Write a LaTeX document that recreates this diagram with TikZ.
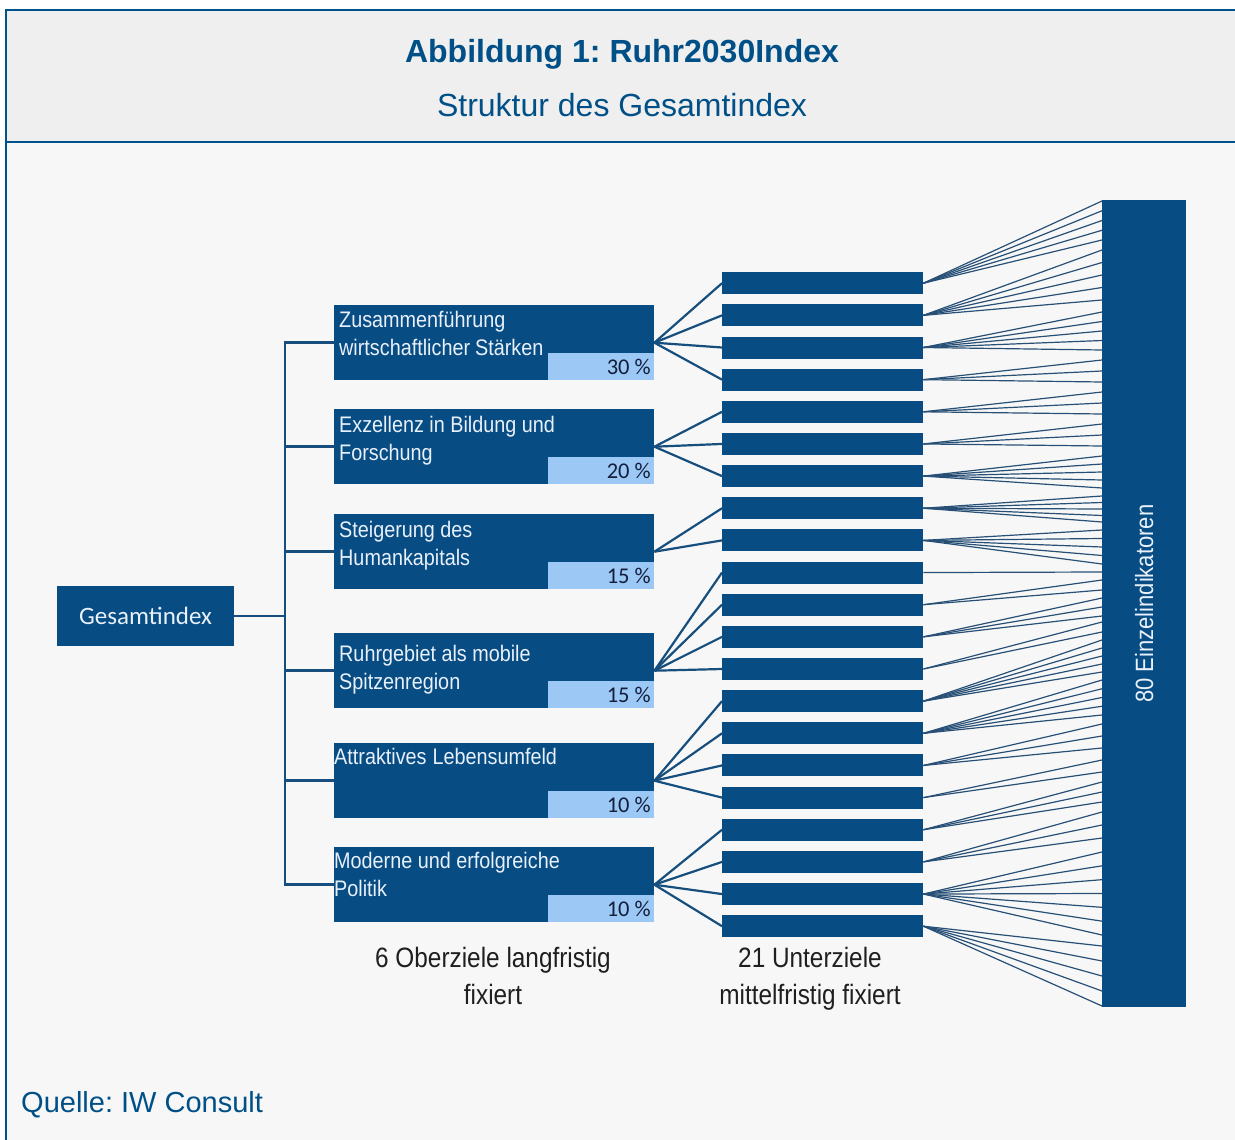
\documentclass[tikz,border=0pt]{standalone}
\usepackage{fontspec}
\setmainfont{Liberation Sans}
\newfontfamily\narrowfont[FakeStretch=0.88]{Liberation Sans}
\newfontfamily\labelfont[FakeStretch=0.87]{Liberation Sans}
\newfontfamily\calfont{Carlito}
\definecolor{framecol}{RGB}{0,82,138}
\definecolor{titlecol}{RGB}{0,80,135}
\definecolor{boxblue}{RGB}{8,76,132}
\definecolor{lightblue}{RGB}{155,200,245}
\definecolor{boxtext}{RGB}{232,240,250}
\definecolor{pcttext}{RGB}{20,30,60}
\definecolor{linecol}{RGB}{22,78,125}
\definecolor{thincol}{RGB}{40,80,118}
\definecolor{headbg}{RGB}{239,239,239}
\definecolor{bodybg}{RGB}{247,247,247}
\frenchspacing
\newcommand\twolines[2]{\vtop{\hbox{#1}\hbox{#2}}}
\newcommand\twocentered[2]{\vtop{\halign{\hfil##\hfil\cr#1\cr#2\cr}}}
\tikzset{
  obox/.style={fill=boxblue, draw=none, minimum width=320pt, minimum height=75pt, inner sep=0pt, anchor=north west},
  pbox/.style={fill=lightblue, draw=none, minimum width=106pt, minimum height=27pt, inner sep=0pt, anchor=south east},
  ubar/.style={fill=boxblue, draw=none, minimum width=201pt, minimum height=22pt, inner sep=0pt, anchor=north west},
  otext/.style={text=boxtext, font=\narrowfont\fontsize{22.5}{28.5}\selectfont, inner sep=0pt, anchor=base west},
  ptext/.style={text=pcttext, font=\calfont\fontsize{22.5}{26}\selectfont, inner sep=0pt, anchor=base east},
  blabel/.style={text=black!88, font=\labelfont\fontsize{28}{37}\selectfont, inner sep=0pt, anchor=north},
  tree/.style={draw=linecol, line width=2.6pt},
  ofan/.style={draw=linecol, line width=2.2pt},
  ifan/.style={draw=thincol, line width=1.2pt},
  frame/.style={draw=framecol, line width=2.6pt},
}
\begin{document}
\begin{tikzpicture}[x=1pt,y=-1pt]
\useasboundingbox (0,0) rectangle (1235,1140);
\fill[white] (0,0) rectangle (1235,1140);
\fill[headbg] (6,10) rectangle (1235,142);
\fill[bodybg] (6,142) rectangle (1235,1140);
\draw[frame] (6,1141) -- (6,10) -- (1236,10);
\draw[frame] (6,142) -- (1236,142);

% header texts
\node[font=\bfseries\fontsize{32}{38}\selectfont, text=titlecol, inner sep=0pt, anchor=base] (title) at (622,63) {Abbildung 1: Ruhr2030Index};
\node[font=\fontsize{32}{38}\selectfont, text=titlecol, inner sep=0pt, anchor=base] (subtitle) at (622,116) {Struktur des Gesamtindex};

% Gesamtindex
\node[fill=boxblue, minimum width=177pt, minimum height=60pt, inner sep=0pt, text=boxtext, font=\calfont\fontsize{25}{30}\selectfont] (g) at (145.5,616) {Gesamtindex};

% Oberziele boxes
\node[obox] (o1) at (334,305) {};
\node[obox] (o2) at (334,409) {};
\node[obox] (o3) at (334,514) {};
\node[obox] (o4) at (334,633) {};
\node[obox] (o5) at (334,743) {};
\node[obox] (o6) at (334,847) {};
\foreach \o in {1,...,6}{
  \node[pbox] (p\o) at (o\o.south east) {};
}

% texts in boxes
\node[otext] (t1) at (339,327) {\twolines{Zusammenführung}{wirtschaftlicher\hspace{5pt}Stärken}};
\node[otext] (t2) at (339,432) {\twolines{Exzellenz in Bildung und}{Forschung}};
\node[otext] (t3) at (339,537) {\twolines{Steigerung des}{Humankapitals}};
\node[otext] (t4) at (339,661) {\twolines{Ruhrgebiet als mobile}{Spitzenregion}};
\node[otext] (t5) at (334,764) {Attraktives\hspace{6pt}Lebensumfeld};
\node[otext] (t6) at (334,868) {\twolines{Moderne und erfolgreiche}{Politik}};

% percentages
\node[ptext] (pc1) at (651,374) {30 \%};
\node[ptext] (pc2) at (651,478) {20 \%};
\node[ptext] (pc3) at (651,583) {15 \%};
\node[ptext] (pc4) at (651,702) {15 \%};
\node[ptext] (pc5) at (651,812) {10 \%};
\node[ptext] (pc6) at (651,916) {10 \%};

% tree
\coordinate (tj) at (285,616);
\draw[tree] (g.east) -- (tj);
\foreach \o in {1,...,6}{
  \draw[tree] (o\o.west) -| (tj);
}

% Unterziele bars
\foreach \i in {1,...,21}{
  \pgfmathsetmacro\yt{272+32.15*(\i-1)}
  \node[ubar] (u\i) at (722,\yt) {};
}

% fans from Oberziele to Unterziele
\foreach \o/\lst in {1/{1,2,3,4}, 2/{5,6,7}, 3/{8,9}, 4/{10,11,12,13}, 5/{14,15,16,17}, 6/{18,19,20,21}}{
  \foreach \u in \lst {
    \draw[ofan] (o\o.east) -- (u\u.west);
  }
}

% Einzelindikatoren bar
\node[fill=boxblue, draw=none, minimum width=84pt, minimum height=807pt, inner sep=0pt, anchor=north west] (e) at (1102,200) {};
\node[rotate=90, text=boxtext, font=\narrowfont\fontsize{25}{30}\selectfont, inner sep=0pt] (elabel) at (e.center) {80 Einzelindikatoren};

% fans from Unterziele to Einzelindikatoren (80 lines)
\foreach \i/\n/\a/\b in {1/5/201/240, 2/5/250/300, 3/5/312/350, 4/3/360/382, 5/3/392/414, 6/3/424/446, 7/5/456/488, 8/5/496/522, 9/5/530/564, 10/1/572/572, 11/2/580/590, 12/3/598/616, 13/2/622/632, 14/5/640/672, 15/5/680/715, 16/3/724/748, 17/2/760/772, 18/3/782/802, 19/3/812/838, 20/7/852/935, 21/5/946/1006}{
  \pgfmathtruncatemacro\lastk{\n-1}
  \foreach \k in {0,...,\lastk}{
    \pgfmathsetmacro\yy{\a+(\b-\a)*\k/max(\n-1,1)}
    \coordinate (ep) at (e.west |- 0,\yy);
    \draw[ifan] (u\i.east) -- (ep);
  }
}

% bottom labels
\node[blabel] (lab1) at (493,947.5) {\twocentered{6 Oberziele langfristig}{fixiert}};
\node[blabel] (lab2) at (810,947.5) {\twocentered{21 Unterziele}{mittelfristig fixiert}};

% source
\node[font=\fontsize{29}{34}\selectfont, text=titlecol, inner sep=0pt, anchor=base west] (src) at (21,1112) {Quelle: IW Consult};
\end{tikzpicture}
\end{document}
